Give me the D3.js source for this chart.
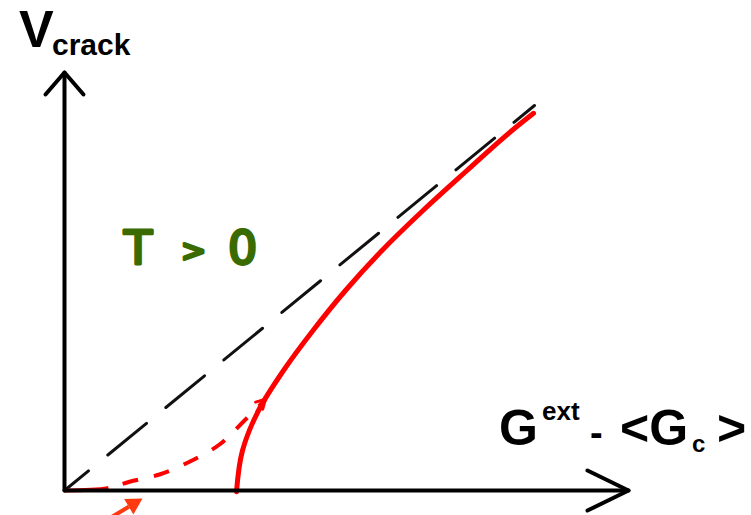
<!DOCTYPE html>
<html>
<head>
<meta charset="utf-8">
<script src="https://cdn.jsdelivr.net/npm/d3@7"></script>
<style>
  html, body { margin: 0; padding: 0; background: #fff; }
  svg { display: block; }
</style>
</head>
<body>
<script>
// Crack velocity versus driving force (G_ext - <G_c>), finite temperature.
// Units are arbitrary schematic units.

// Athermal reference: straight line through the origin
const athermalX = [0, 9.4];
const athermalY = [0, 9.625];

// Thermally activated branch (solid): starts at the threshold and bends over
const solidX = [3.44, 3.56, 3.88, 4.38, 4.97, 5.62, 6.35, 7.17, 8.05, 8.95, 9.38];
const solidY = [-0.03, 1, 2, 3, 4, 5, 6, 7, 8, 9, 9.43];

// Creep branch (dashed): slow motion below threshold, joining the solid branch
const creepX = [0, 0.86, 1.3, 1.9, 2.5, 3.1, 3.6, 4.02];
const creepY = [0, 0.06, 0.22, 0.4, 0.72, 1.15, 1.75, 2.28];

// Pointer to the sub-threshold creep region
const pointerX = [0.92, 1.56];
const pointerY = [-0.68, -0.2];

// Axis extents
const xAxisMax = 11.28;
const yAxisMax = 10.45;

const W = 751, H = 515;
const x = d3.scaleLinear().domain([0, 10]).range([64.5, 564.5]);
const y = d3.scaleLinear().domain([0, 10]).range([490.5, 90.5]);

const svg = d3.select("body").append("svg")
  .attr("width", W).attr("height", H);

const zip = (xs, ys) => xs.map((v, i) => [v, ys[i]]);
const line = d3.line().x(d => x(d[0])).y(d => y(d[1]));
const curve = d3.line().x(d => x(d[0])).y(d => y(d[1])).curve(d3.curveCatmullRom.alpha(0.5));
const smooth = d3.line().x(d => x(d[0])).y(d => y(d[1])).curve(d3.curveMonotoneY);

// Black dashed athermal line
svg.append("path")
  .attr("d", line(zip(athermalX, athermalY)))
  .attr("fill", "none")
  .attr("stroke", "#111")
  .attr("stroke-width", 3)
  .attr("stroke-linecap", "round")
  .attr("stroke-dasharray", "50 25")
  .attr("stroke-dashoffset", 19);

// Red dashed creep branch: long leading dash, then short dashes
const creepDash = [44, 15].concat(d3.range(20).flatMap(() => [16, 16]));
svg.append("path")
  .attr("d", curve(zip(creepX, creepY)))
  .attr("fill", "none")
  .attr("stroke", "#ff0000")
  .attr("stroke-width", 4)
  .attr("stroke-dasharray", creepDash.join(" "));

// small arrowhead at the end of the creep branch
{
  const n = creepX.length;
  const p1 = [x(creepX[n - 1]), y(creepY[n - 1])];
  const p0 = [x(creepX[n - 2]), y(creepY[n - 2])];
  const ang = Math.atan2(p1[1] - p0[1], p1[0] - p0[0]);
  const L = 9, Wd = 5;
  const back = [p1[0] - L * Math.cos(ang), p1[1] - L * Math.sin(ang)];
  const nx = -Math.sin(ang), ny = Math.cos(ang);
  svg.append("path")
    .attr("d", `M${back[0] + nx * Wd},${back[1] + ny * Wd}L${p1[0]},${p1[1]}L${back[0] - nx * Wd},${back[1] - ny * Wd}`)
    .attr("fill", "none").attr("stroke", "#ff0000").attr("stroke-width", 3)
    .attr("stroke-linecap", "round");
}

// Red solid thermally activated branch
svg.append("path")
  .attr("d", smooth(zip(solidX, solidY)))
  .attr("fill", "none")
  .attr("stroke", "#ff0000")
  .attr("stroke-width", 5)
  .attr("stroke-linecap", "round");

// Axes with open arrowheads
const ax = svg.append("g").attr("stroke", "#000").attr("fill", "none")
  .attr("stroke-width", 4).attr("stroke-linecap", "round").attr("stroke-linejoin", "round");
ax.append("path").attr("d", line([[0, 0], [xAxisMax, 0]]));
ax.append("path").attr("d", line([[0, 0], [0, yAxisMax]]));
{
  const tx = x(xAxisMax), ty = y(0);
  ax.append("path").attr("d", `M${tx - 41},${ty - 20}L${tx},${ty}L${tx - 41},${ty + 20}`);
  const ux = x(0), uy = y(yAxisMax);
  ax.append("path").attr("d", `M${ux - 19},${uy + 22}L${ux},${uy}L${ux + 19},${uy + 22}`);
}

// Pointer arrow below the axis
{
  const p0 = [x(pointerX[0]), y(pointerY[0])];
  const p1 = [x(pointerX[1]), y(pointerY[1])];
  const ang = Math.atan2(p1[1] - p0[1], p1[0] - p0[0]);
  const L = 16, Wd = 9;
  const back = [p1[0] - L * Math.cos(ang), p1[1] - L * Math.sin(ang)];
  const nx = -Math.sin(ang), ny = Math.cos(ang);
  svg.append("line")
    .attr("x1", p0[0]).attr("y1", p0[1]).attr("x2", back[0]).attr("y2", back[1])
    .attr("stroke", "#ff3a10").attr("stroke-width", 4);
  svg.append("path")
    .attr("d", `M${back[0] + nx * Wd},${back[1] + ny * Wd}L${p1[0]},${p1[1]}L${back[0] - nx * Wd},${back[1] - ny * Wd}Z`)
    .attr("fill", "#ff3a10");
}

// Labels
const font = "'Liberation Sans', Arial, sans-serif";
svg.append("text").attr("x", 19).attr("y", 47)
  .attr("font-family", font).attr("font-weight", "bold").attr("font-size", 52)
  .text("V");
svg.append("text").attr("x", 52).attr("y", 55)
  .attr("font-family", font).attr("font-weight", "bold").attr("font-size", 30)
  .text("crack");

svg.append("text").attr("x", 499).attr("y", 445)
  .attr("font-family", font).attr("font-weight", "bold").attr("font-size", 50)
  .text("G");
svg.append("text").attr("x", 542).attr("y", 420)
  .attr("font-family", font).attr("font-weight", "bold").attr("font-size", 26)
  .text("ext");
svg.append("text").attr("x", 590).attr("y", 446)
  .attr("font-family", font).attr("font-weight", "bold").attr("font-size", 38)
  .text("-");
svg.append("text").attr("x", 620).attr("y", 445)
  .attr("font-family", font).attr("font-weight", "bold").attr("font-size", 50)
  .text("<G");
svg.append("text").attr("x", 692).attr("y", 452)
  .attr("font-family", font).attr("font-weight", "bold").attr("font-size", 24)
  .text("c");
svg.append("text").attr("x", 717).attr("y", 445)
  .attr("font-family", font).attr("font-weight", "bold").attr("font-size", 50)
  .text(">");

// Temperature label in a rounded, hand-drawn style
const green = "#3a6b00";
const gfont = "'DejaVu Sans', Verdana, sans-serif";
const gText = (tx, ty, size, s) => svg.append("text").attr("x", tx).attr("y", ty)
  .attr("font-family", gfont).attr("font-size", size)
  .attr("fill", green).attr("stroke", green).attr("stroke-width", 3)
  .attr("stroke-linejoin", "round").attr("stroke-linecap", "round").text(s);
gText(124, 264, 46, "T");
gText(181, 261, 30, ">");
gText(228, 264, 46, "0");
</script>
</body>
</html>
